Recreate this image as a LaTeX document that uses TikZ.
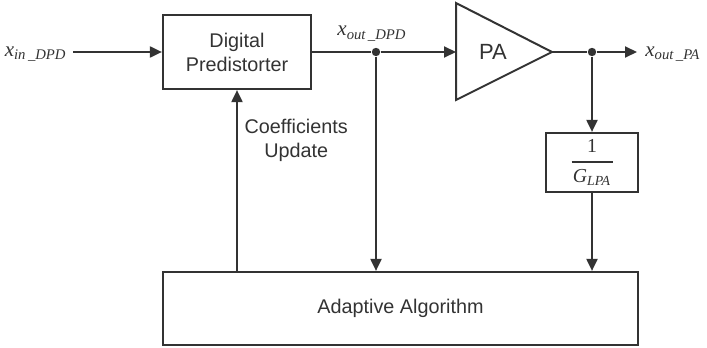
\documentclass[tikz,border=0pt]{standalone}
\usepackage{fontspec}
\setmainfont{Liberation Sans}
\newfontfamily\tnr{Liberation Serif}
\usepackage{xcolor}
\usetikzlibrary{positioning,arrows.meta,calc}
\definecolor{ink}{HTML}{333333}
\newcommand{\sig}[1]{{\tnr\itshape x\textsubscript{#1}}}

\begin{document}
\begin{tikzpicture}[x=0.5pt,y=-0.5pt,font=\fontsize{9.9}{12}\selectfont,
   every node/.style={text=ink},
   block/.style={draw=ink,line width=1.1pt,inner sep=0pt,align=center},
   wire/.style={draw=ink,line width=1pt},
   flow/.style={-{Triangle[length=6pt,width=5.5pt]},draw=ink,line width=1pt},
   dot/.style={circle,fill=ink,inner sep=0pt,minimum size=4.2pt},
   sigl/.style={font=\fontsize{10.5}{12}\selectfont,inner sep=1pt}]
 \useasboundingbox (0,0) rectangle (707,348);
 % blocks
 \node[block,minimum width=74pt,minimum height=37pt] (dpd) at (237,52) {Digital\\Predistorter};
 \node[block,minimum width=46pt,minimum height=29.5pt] (gain) at (592,162.5)
   {\tnr 1\\[-7pt]\rule{20.5pt}{0.6pt}\\[-2pt]\tnr\itshape G\textsubscript{LPA}};
 \node[block,minimum width=237.5pt,minimum height=36.5pt] (alg) at (400.5,308.5) {Adaptive Algorithm};
 % amplifier
 \coordinate (pain) at (456,52);
 \coordinate (patip) at (552,52);
 \draw[wire,line join=miter] (456,3) -- (patip) -- (456,100) -- cycle;
 \node[font=\fontsize{11}{12}\selectfont] (pa) at (493,52) {PA};
 % branch points
 \node[dot] (j1) at (376,52) {};
 \node[dot] (j2) at (592,52) {};
 % signal names
 \node[sigl,anchor=east] (xin) at (69,54) {\sig{in\,\_DPD}};
 \node[sigl,above=2pt of j1,xshift=-2pt] (xdpd) {\sig{out\,\_DPD}};
 \node[sigl,anchor=west] (xout) at (643,54) {\sig{out\,\_PA}};
 % connections
 \draw[flow,shorten <=2pt] (xin.east |- dpd) -- (dpd.west);
 \draw[wire] (dpd.east) -- (j1);
 \draw[flow] (j1) -- (pain);
 \draw[wire] (patip) -- (j2);
 \draw[flow,shorten >=3pt] (j2) -- (xout.west |- j2);
 \draw[flow] (j2) -- (gain.north);
 \draw[flow] (gain.south) -- (gain.south |- alg.north);
 \draw[flow] (j1) -- (j1 |- alg.north);
 \draw[flow] (dpd.south |- alg.north) -- node[right,pos=0.72,align=center]{Coefficients\\Update} (dpd.south);
\end{tikzpicture}
\end{document}
